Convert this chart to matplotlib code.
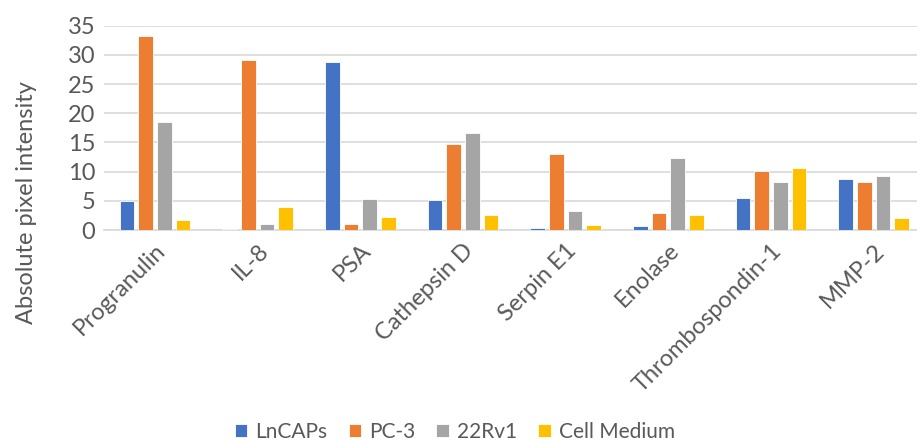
import matplotlib.pyplot as plt
import numpy as np

plt.rcParams['font.family'] = ['Lato', 'DejaVu Sans']

proteins = ['Progranulin', 'IL-8', 'PSA', 'Cathepsin D', 'Serpin E1',
            'Enolase', 'Thrombospondin-1', 'MMP-2']
series = ['LnCAPs', 'PC-3', '22Rv1', 'Cell Medium']
lncaps = [4.9, 0.1, 28.7, 5.2, 0.3, 0.75, 5.4, 8.7]
pc3 = [33.2, 29.1, 1.0, 14.8, 13.0, 2.85, 10.1, 8.2]
rv1 = [18.5, 1.1, 5.3, 16.6, 3.2, 12.3, 8.3, 9.2]
medium = [1.7, 3.9, 2.3, 2.5, 0.9, 2.5, 10.6, 2.0]
colors = ['#4472C4', '#ED7D31', '#A5A5A5', '#FFC000']

text_col = '#595959'
grid_col = '#D9D9D9'

fig = plt.figure(figsize=(9.17, 4.42), dpi=100)
# plot area runs slightly past the right edge of the image, as in the original
ax = fig.add_axes([103.6 / 917, 1 - 230 / 442, 821.4 / 917, 204.3 / 442])

x = np.arange(len(proteins))
width = 0.143
pitch = 0.182
for i, (name, vals) in enumerate(zip(series, [lncaps, pc3, rv1, medium])):
    ax.bar(x + (i - 1.5) * pitch, vals, width, color=colors[i], label=name,
           edgecolor='white', linewidth=0.6, zorder=3)

ax.set_xlim(-0.5, len(proteins) - 0.5)
ax.set_ylim(0, 35)
ax.set_yticks(range(0, 36, 5))
ax.yaxis.grid(True, color=grid_col, linewidth=1.2, zorder=0)
for s in ['top', 'right', 'left']:
    ax.spines[s].set_visible(False)
ax.spines['bottom'].set_color(grid_col)
ax.spines['bottom'].set_linewidth(1.2)
ax.tick_params(axis='both', length=0, labelsize=17, colors=text_col)
ax.tick_params(axis='y', pad=6)

ax.set_xticks(x)
ax.set_xticklabels(proteins, rotation=45, ha='right', va='top',
                   rotation_mode='anchor')
ax.tick_params(axis='x', pad=7)

fig.text(27 / 917, 1 - 203 / 442, 'Absolute pixel intensity', rotation=90,
         ha='center', va='center', fontsize=17, color=text_col)

fig.legend(loc='center', bbox_to_anchor=(455 / 917, 1 - 432 / 442), ncol=4,
           frameon=False, fontsize=15, labelcolor=text_col,
           handlelength=0.6, handleheight=0.6, handletextpad=0.4,
           columnspacing=1.0)

fig.savefig('out.png', dpi=100)
